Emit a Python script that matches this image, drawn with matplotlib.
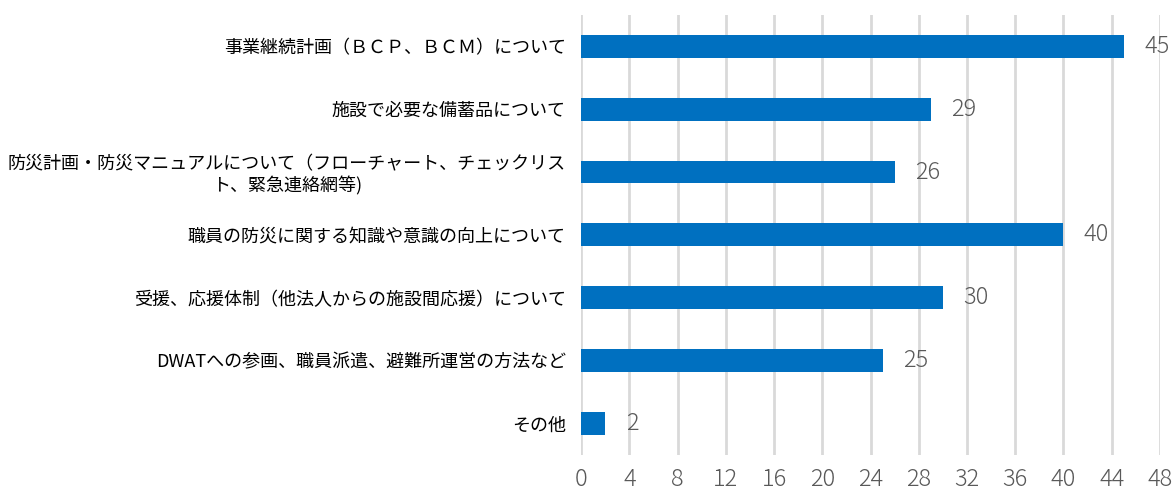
import matplotlib.pyplot as plt

plt.rcParams['font.family'] = ['Noto Sans CJK JP', 'DejaVu Sans']

categories = [
    "事業継続計画（ＢＣＰ、ＢＣＭ）について",
    "施設で必要な備蓄品について",
    "防災計画・防災マニュアルについて（フローチャート、チェックリス\nト、緊急連絡網等)",
    "職員の防災に関する知識や意識の向上について",
    "受援、応援体制（他法人からの施設間応援）について",
    "DWATへの参画、職員派遣、避難所運営の方法など",
    "その他",
]
values = [45, 29, 26, 40, 30, 25, 2]
xticks = list(range(0, 49, 4))

num_font = ['Noto Sans CJK JP', 'DejaVu Sans']

fig = plt.figure(figsize=(11.74, 4.95), dpi=100)
# axes spans x 581..1160 px, y 15..455 px
ax = fig.add_axes([0.495, 0.081, 0.493, 0.889])

pos = list(range(len(categories)))
ax.barh(pos, values, height=0.365, color="#0070C0", zorder=3)
for p, v in zip(pos, values):
    ax.text(v + 1.7, p, str(v), va="center", ha="left", fontsize=17,
            color="#595959", family=num_font, fontweight="light")

ax.set_ylim(len(categories) - 0.5, -0.5)
ax.set_xlim(0, 48)
ax.set_xticks(xticks)
ax.set_xticklabels([str(t) for t in xticks], fontsize=17, color="#595959",
                   family=num_font, fontweight="light")
ax.set_yticks(pos)
ax.set_yticklabels(categories, fontsize=13, color="#000000")
for lab in ax.get_yticklabels():
    lab.set_multialignment("center")

ax.tick_params(axis="both", length=0)
ax.tick_params(axis="y", pad=11)
ax.tick_params(axis="x", pad=9)
ax.grid(axis="x", color="#d9d9d9", linewidth=2, zorder=0)
for s in ax.spines.values():
    s.set_visible(False)

fig.savefig("out.png", dpi=100)
